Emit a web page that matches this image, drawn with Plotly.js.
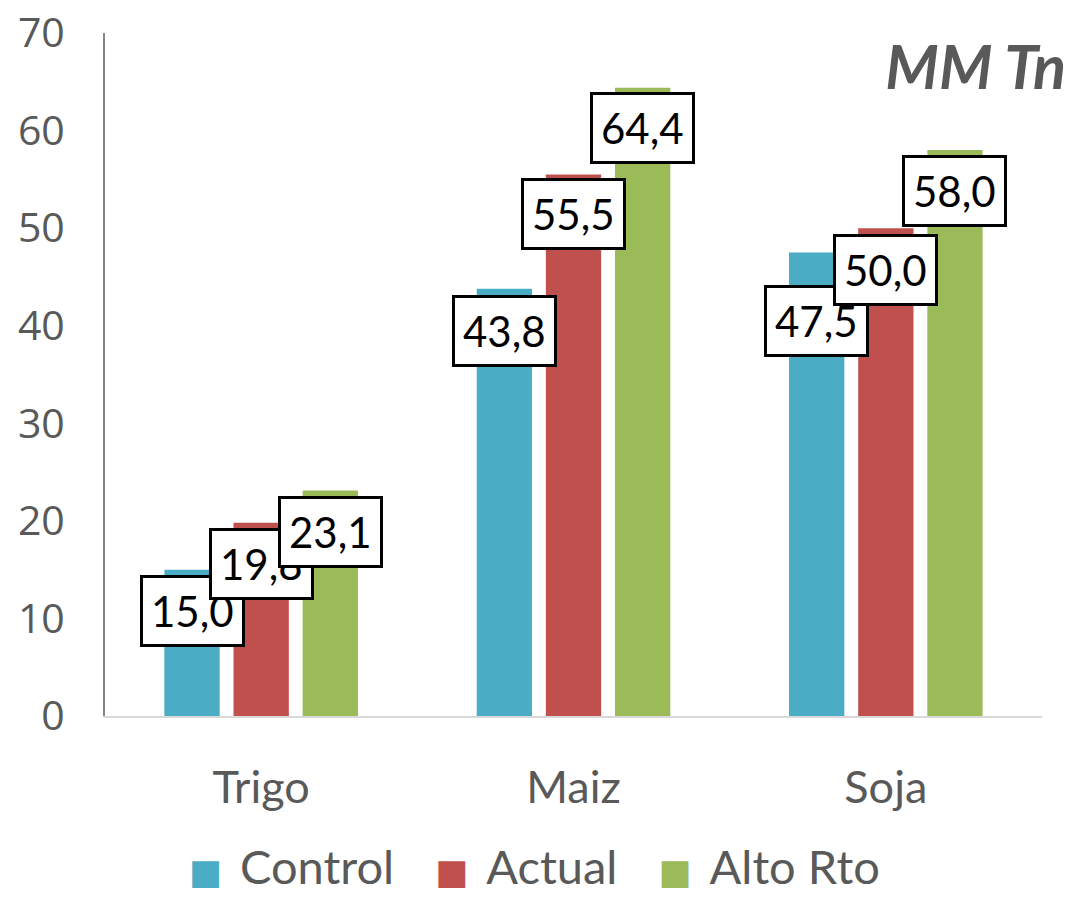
<!DOCTYPE html>
<html><head><meta charset="utf-8">
<script src="https://cdn.plot.ly/plotly-3.0.1.min.js"></script>
<style>html,body{margin:0;padding:0;background:#fff}#chart{width:1068px;height:897px}</style>
</head><body><div id="chart"></div>
<script>
const categories = ["Trigo", "Maiz", "Soja"];
const seriesNames = ["Control", "Actual", "Alto Rto"];
const control = [15.0, 43.8, 47.5];
const actual = [19.8, 55.5, 50.0];
const altoRto = [23.1, 64.4, 58.0];
const yTicks = [0, 10, 20, 30, 40, 50, 60, 70];
const unitTitle = "MM Tn";

const colors = ["#4BACC6", "#C0504D", "#9BBB59"];
const series = [control, actual, altoRto];
// label vertical offsets (px) below bar top
const labelShift = [[-41, -42, -68], [-41, -40, -42], [-41, -40, -41]];

const W = 1068, H = 897;
const margin = {l: 105, r: 26, t: 33, b: 181};
const bargap = 0.336, bargroupgap = 0.2;
const plotW = W - margin.l - margin.r;
const plotH = H - margin.t - margin.b;
const slot = plotW / categories.length * (1 - bargap) / series.length;

const traces = series.map((vals, i) => ({
  type: "bar", name: seriesNames[i], x: categories, y: vals,
  marker: {color: colors[i]}, showlegend: false, hoverinfo: "skip"
}));

const fmt = v => v.toFixed(1).replace(".", ",");
const annotations = [];
series.forEach((vals, i) => vals.forEach((v, j) => annotations.push({
  x: categories[j], y: v, xref: "x", yref: "y", text: fmt(v), showarrow: false,
  xshift: (i - 1) * slot, yshift: labelShift[i][j],
  font: {family: "Lato", size: 42, color: "#000"},
  bgcolor: "#fff", bordercolor: "#000", borderwidth: 3, borderpad: 8
})));

// custom legend (large square swatches)
const legendText = seriesNames.map((n, i) =>
  '<span style="color:' + colors[i] + ';font-family:DejaVu Sans;font-size:35px">\u25A0</span> \u2009' + n
).join('\u2003\u2009');
annotations.push({
  xref: "paper", yref: "paper", x: (534 - margin.l) / plotW, y: (716 - 866) / plotH,
  xanchor: "center", yanchor: "middle", showarrow: false, text: legendText,
  font: {family: "Lato", size: 47, color: "#595959"}
});

const layout = {
  width: W, height: H, margin: margin,
  paper_bgcolor: "#fff", plot_bgcolor: "#fff",
  barmode: "group", bargap: bargap, bargroupgap: bargroupgap,
  title: {text: "<b><i>" + unitTitle + "</i></b>", xref: "container", yref: "container",
    x: 1066 / W, xanchor: "right", y: 1 - 68 / H, yanchor: "middle",
    font: {family: "Lato", size: 61, color: "#595959"}},
  xaxis: {type: "category", showline: true, linecolor: "#d9d9d9", linewidth: 2,
    ticks: "", showgrid: false, zeroline: false, ticklabelstandoff: 31,
    tickfont: {family: "Lato", size: 45, color: "#595959"}},
  yaxis: {range: [0, 70], tickvals: yTicks, ticktext: yTicks.map(String),
    showline: true, linecolor: "#868686", linewidth: 2, showgrid: false, zeroline: false,
    ticks: "", ticklabelstandoff: 30,
    tickfont: {family: "Open Sans", size: 41, color: "#595959"}},
  annotations: annotations,
  showlegend: false
};
Plotly.newPlot("chart", traces, layout, {displayModeBar: false, staticPlot: true});
</script></body></html>
